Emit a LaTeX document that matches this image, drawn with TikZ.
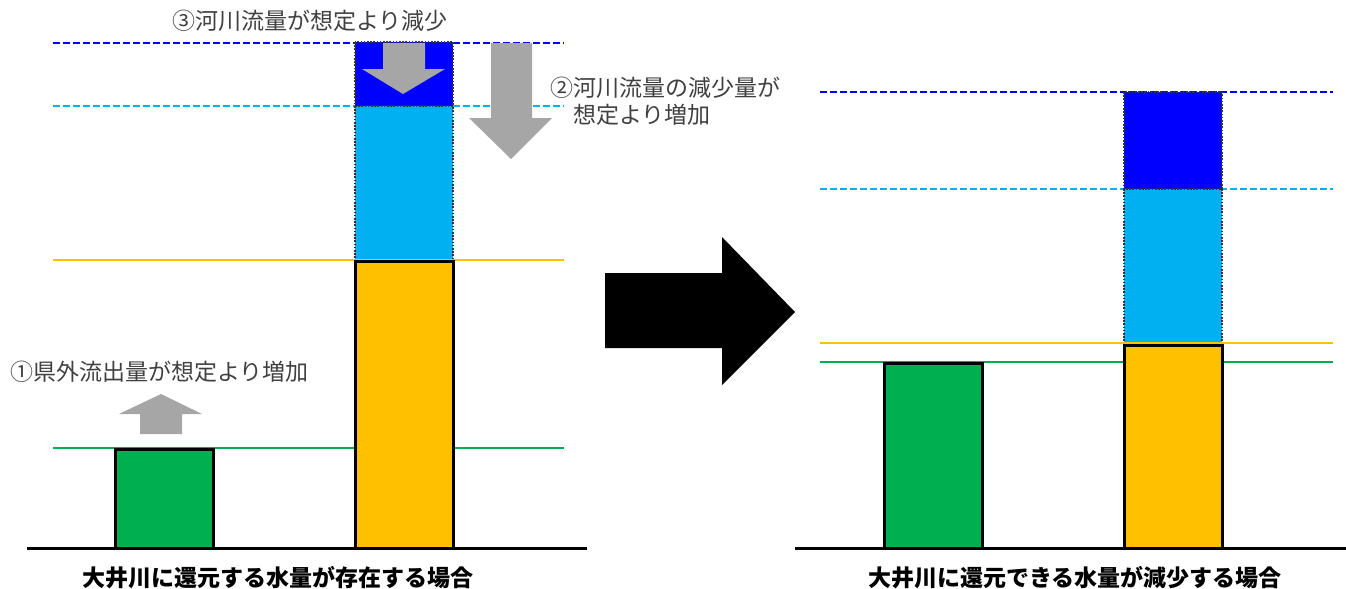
\documentclass[tikz,border=0pt]{standalone}
\usepackage{fontspec}
\setmainfont{Noto Sans CJK JP}
\definecolor{cblue}{HTML}{0000FF}
\definecolor{clblue}{HTML}{00B0F0}
\definecolor{corange}{HTML}{FFC000}
\definecolor{cgreen}{HTML}{00B050}
\definecolor{cgray}{HTML}{A6A6A6}
\definecolor{ctext}{HTML}{404040}
\tikzset{
  guide/.style={line width=0.6pt},
  guidedash/.style={line width=0.6pt, dash pattern=on 3.5pt off 1.5pt},
  solidbar/.style={draw=black, line width=1.5pt},
  waterblock/.style={draw=black!80, line width=0.6pt, dash pattern=on 0.8pt off 0.8pt},
  grayarrow/.style={fill=cgray, draw=none},
  lbl/.style={font=\fontsize{11.5pt}{14pt}\selectfont, text=ctext, inner sep=0pt},
  ttl/.style={font=\fontsize{11.5pt}{14pt}\selectfont\bfseries, text=black, inner sep=0pt},
}
\begin{document}
\begin{tikzpicture}[x=0.5pt, y=-0.5pt]
\useasboundingbox (0,0) rectangle (1346,589);
% ---------- left panel ----------
\draw[guidedash, cblue] (53,43) -- (564,43);
\draw[guidedash, clblue] (53,106) -- (564,106);
\fill[cblue] (355,42) rectangle (453,106);
\fill[clblue] (355,106) rectangle (453,260);
\draw[waterblock] (355,42) rectangle (453,106);
\draw[waterblock] (355,106) rectangle (453,260);
\draw[guide, corange] (53,260) -- (564,260);
\draw[guide, cgreen] (53,448) -- (564,448);
\draw[solidbar, fill=corange] (355,261) rectangle (453,548);
\draw[solidbar, fill=cgreen] (115,449) rectangle (213,548);
\draw[line width=1.5pt] (27,548) -- (587,548);
% gray arrows
\fill[grayarrow] (383,43) -- (425,43) -- (425,69) -- (445,69) -- (403,94) -- (362,69) -- (383,69) -- cycle;
\fill[grayarrow] (491,43) -- (532,43) -- (532,118) -- (552,118) -- (511,159) -- (469,118) -- (491,118) -- cycle;
\fill[grayarrow] (140,434) -- (182,434) -- (182,414) -- (202,414) -- (161,394) -- (119,414) -- (140,414) -- cycle;
% labels
\node[lbl, anchor=center] (l3) at (310,21) {③河川流量が想定より減少};
\node[lbl, anchor=west] (l2a) at (550,88) {②河川流量の減少量が};
\node[lbl, anchor=west] (l2b) at (573,115) {想定より増加};
\node[lbl, anchor=west] (l1) at (10,372) {①県外流出量が想定より増加};
\node[ttl, anchor=center] (t1) at (278,578) {大井川に還元する水量が存在する場合};
% ---------- big arrow ----------
\fill[black] (605,273) -- (722,273) -- (722,237) -- (795,312) -- (722,385) -- (722,348) -- (605,348) -- cycle;
% ---------- right panel ----------
\draw[guidedash, cblue] (820,92) -- (1333,92);
\draw[guidedash, clblue] (820,189) -- (1333,189);
\fill[cblue] (1124,92) rectangle (1222,189);
\fill[clblue] (1124,189) rectangle (1222,344);
\draw[waterblock] (1124,92) rectangle (1222,189);
\draw[waterblock] (1124,189) rectangle (1222,344);
\draw[guide, corange] (820,343) -- (1333,343);
\draw[guide, cgreen] (820,362) -- (1333,362);
\draw[solidbar, fill=corange] (1124,345) rectangle (1222,548);
\draw[solidbar, fill=cgreen] (884,363) rectangle (982,548);
\draw[line width=1.5pt] (795,548) -- (1346,548);
\node[ttl, anchor=center] (t2) at (1075,578) {大井川に還元できる水量が減少する場合};
\end{tikzpicture}
\end{document}
